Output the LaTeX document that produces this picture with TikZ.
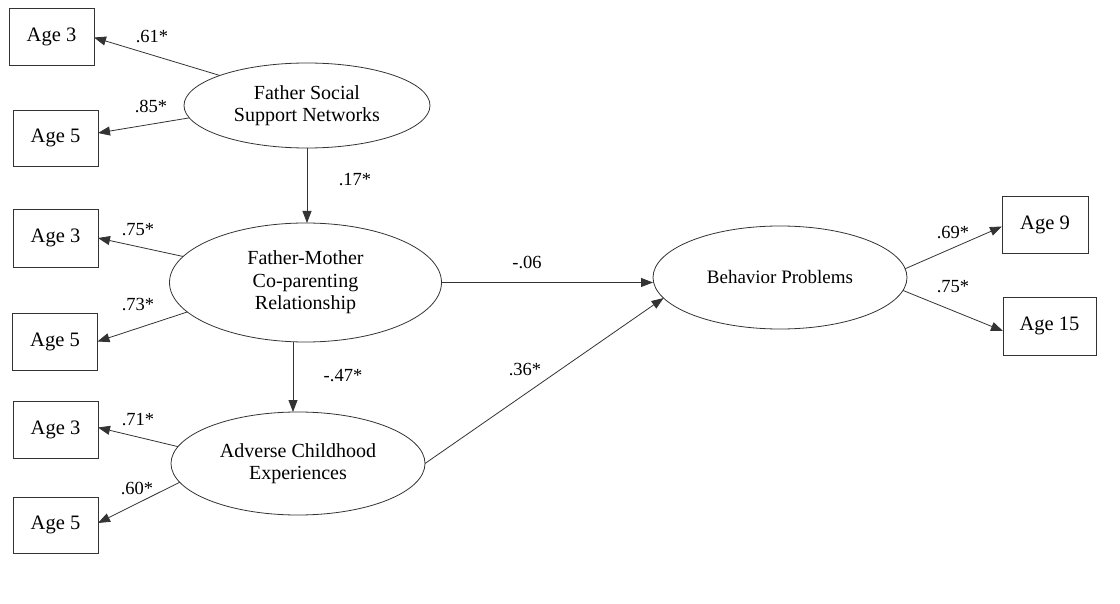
\documentclass[tikz,border=0pt]{standalone}
\usepackage{fontspec}
\setmainfont{Liberation Serif}
\usetikzlibrary{shapes.geometric,arrows.meta}
\begin{document}
\begin{tikzpicture}[x=1pt,y=-1pt,
  ln/.style={draw=black!80, line width=0.8pt},
  obs/.style={ln, rectangle, inner sep=0pt, outer sep=0pt, minimum width=85pt, minimum height=57pt, font=\fontsize{20.5}{24}\selectfont},
  lat/.style={ln, ellipse, inner sep=0pt, outer sep=0pt, align=center, font=\fontsize{20}{22.5}\selectfont},
  arr/.style={ln, -{Triangle[length=12pt,width=9pt]}},
  coef/.style={inner sep=0pt, font=\fontsize{18.5}{20}\selectfont}]
\useasboundingbox (0,0) rectangle (1120,604);
% latent variables
\node[lat, minimum width=246pt, minimum height=85pt] (fssn) at (307,105.5) {Father Social\\Support Networks};
\node[lat, minimum width=272pt, minimum height=119pt] (fmcr) at (305.5,282.5) {Father-Mother\\Co-parenting\\Relationship};
\node[lat, minimum width=254pt, minimum height=103pt] (ace) at (298,463.5) {Adverse Childhood\\Experiences};
\node[lat, minimum width=254pt, minimum height=103pt, font=\fontsize{19}{22}\selectfont] (bp) at (780,277.5) {Behavior Problems};
% indicators
\node[obs] (a3t) at (51.5,36.5) {Age 3};
\node[obs, minimum height=56pt] (a5t) at (55.5,138) {Age 5};
\node[obs, minimum height=58pt] (a3m) at (55.5,238) {Age 3};
\node[obs] (a5m) at (55,341.5) {Age 5};
\node[obs] (a3b) at (55.5,429.5) {Age 3};
\node[obs, minimum height=56pt] (a5b) at (55.5,525) {Age 5};
\node[obs, minimum width=86pt] (a9) at (1045,224.5) {Age 9};
\node[obs, minimum width=93pt, minimum height=58pt] (a15) at (1049.5,326) {Age 15};
% loadings
\draw[arr] (fssn.161.6) -- ([yshift=-1pt]a3t.east);
\draw[arr] (fssn.186) -- ([yshift=5pt]a5t.east);
\draw[arr] (fmcr.168.7) -- (a3m.east);
\draw[arr] (fmcr.194) -- (a5m.east);
\draw[arr] (ace.172.2) -- ([yshift=2pt]a3b.east);
\draw[arr] (ace.189.3) -- ([yshift=2pt]a5b.east);
\draw[arr] (bp.4.8) -- ([yshift=-2pt]a9.west);
\draw[arr] (bp.-6) -- ([yshift=-5pt]a15.west);
% structural paths
\draw[arr] (fssn.south) -- (fssn.south |- fmcr.north);
\draw[arr] ([xshift=-5pt]ace.north |- fmcr.south) -- ([xshift=-5pt]ace.north);
\draw[arr] (fmcr.east) -- (fmcr.east -| bp.west);
\draw[arr] (ace.east) -- (bp.190.6);
% coefficients
\node[coef] (c1) at (152,37) {.61*};
\node[coef] (c2) at (151,106) {.85*};
\node[coef] (c3) at (355,180) {.17*};
\node[coef] (c4) at (138,230) {.75*};
\node[coef] (c5) at (138,305) {.73*};
\node[coef] (c6) at (527,262) {-.06};
\node[coef] (c7) at (343,376) {-.47*};
\node[coef] (c8) at (138,420) {.71*};
\node[coef] (c9) at (137,488) {.60*};
\node[coef] (c10) at (525,370) {.36*};
\node[coef] (c11) at (953,233) {.69*};
\node[coef] (c12) at (953,287) {.75*};
\end{tikzpicture}
\end{document}
